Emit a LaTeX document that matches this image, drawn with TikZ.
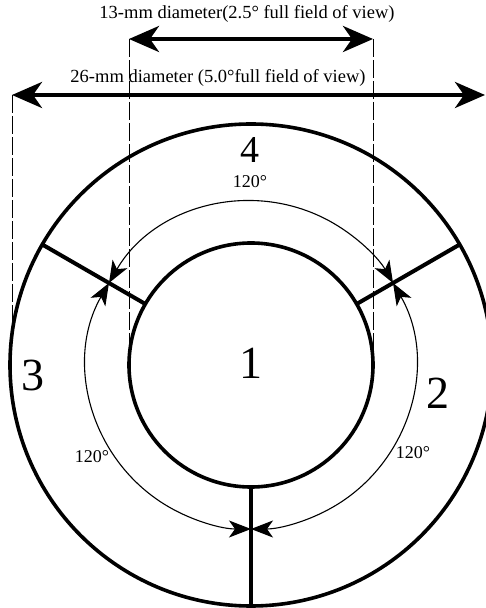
\documentclass[tikz,border=0pt]{standalone}
\usepackage{fontspec}
\setmainfont{Liberation Serif}
\usetikzlibrary{arrows.meta, calc}

\begin{document}
\begin{tikzpicture}[
  x=1pt, y=1pt,
  ring/.style={line width=3.6pt},
  divider/.style={line width=4pt},
  span/.style={{Stealth[length=22pt,width=17pt,inset=6pt]}-{Stealth[length=22pt,width=17pt,inset=6pt]},
    line width=1.1pt},
  dim/.style={{Stealth[length=30pt,width=26pt,inset=9pt]}-{Stealth[length=30pt,width=26pt,inset=9pt]},
    line width=4pt},
  guide/.style={dash pattern=on 18pt off 3pt, line width=1pt},
  zone/.style={font=\fontsize{46}{46}\selectfont},
  angle/.style={font=\fontsize{18}{18}\selectfont},
  caption/.style={font=\fontsize{18.5}{18.5}\selectfont},
]
  \useasboundingbox (0,0) rectangle (486,608);
  \coordinate (c) at (251,243);

  % rings
  \draw[ring] (c) circle[radius=241];
  \draw[ring] (c) circle[radius=122];

  % sector borders
  \foreach \a/\n in {150/l, 30/r, 270/b} {
    \coordinate (in\n) at ($(c)+(\a:122)$);
    \coordinate (out\n) at ($(c)+(\a:241)$);
    \coordinate (mid\n) at ($(c)+(\a:164)$);
    \draw[divider] (in\n) -- (out\n);
  }

  % 120 degree spans
  \draw[span] (midl) arc[start angle=150, end angle=30, radius=164];
  \draw[span] (midl) arc[start angle=150, end angle=270, radius=164];
  \draw[span] (midr) arc[start angle=30, end angle=-90, radius=164];

  % field of view
  \coordinate (s1) at (129,569);
  \coordinate (s2) at (373,569);
  \coordinate (s1b) at (129,243);
  \coordinate (s2b) at (373,243);
  \coordinate (w1) at (12,513);
  \coordinate (w2) at (485,513);
  \coordinate (w1b) at (12,276);
  \draw[guide] (s1) -- (s1b);
  \draw[guide] (s2) -- (s2b);
  \draw[guide] (w1) -- (w1b);
  \draw[dim] (s1) -- (s2);
  \draw[dim] (w1) -- (w2);

  \node[caption] (cap13) at (247,594) {13-mm diameter(2.5° full field of view)};
  \node[caption] (cap26) at (218,530) {26-mm diameter (5.0°full field of view)};

  % zones
  \node[zone] (z1) at (251,245) {1};
  \node[zone] (z2) at (438,215) {2};
  \node[zone] (z3) at (33,233) {3};
  \node[zone, font=\fontsize{38}{38}\selectfont] (z4) at (250,458) {4};

  \node[angle] (a4) at (250,426) {120°};
  \node[angle] (a3) at (92,151) {120°};
  \node[angle] (a2) at (413,155) {120°};
\end{tikzpicture}
\end{document}
